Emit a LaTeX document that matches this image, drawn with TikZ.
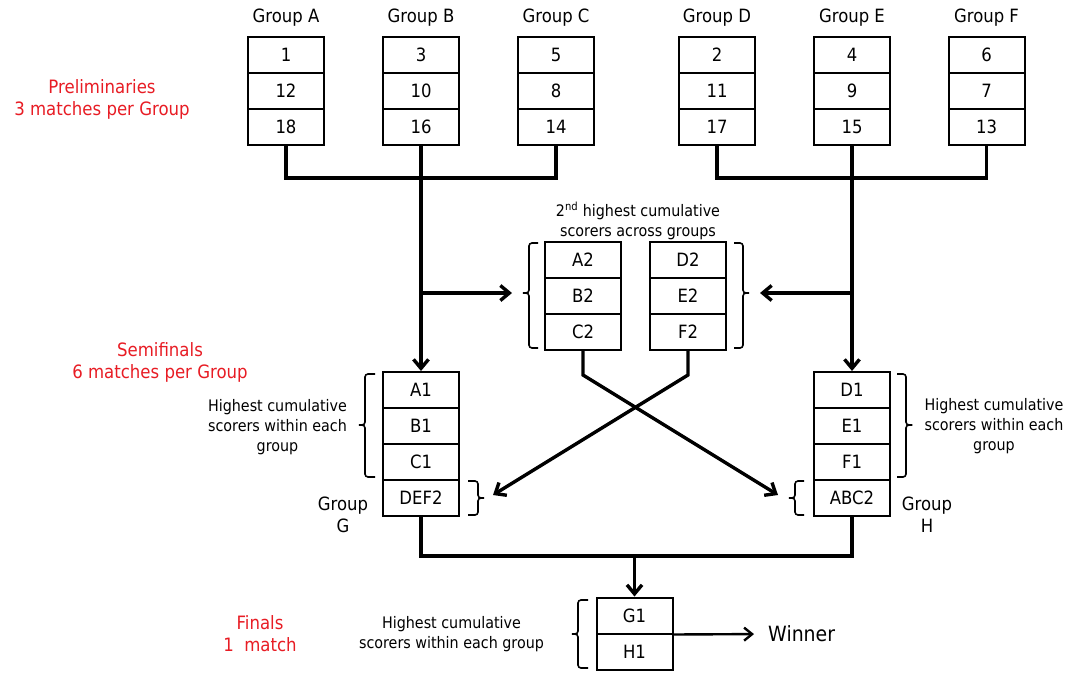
\documentclass[tikz,border=0pt]{standalone}
\usepackage{fontspec}
\setmainfont{DejaVu Sans}[FakeStretch=0.9]
\usetikzlibrary{arrows.meta}
\definecolor{lblred}{RGB}{232,28,36}
\begin{document}
\begin{tikzpicture}[x=1pt,y=-1pt,
  cell/.style={draw, line width=2pt, minimum width=76pt, minimum height=36pt, inner sep=0pt, font=\fontsize{18.3}{20}\selectfont},
  glabel/.style={inner sep=0pt, font=\fontsize{18.3}{20}\selectfont},
  note/.style={align=center, inner sep=0pt, font=\fontsize{15.9}{20}\selectfont},
  grp/.style={align=center, inner sep=0pt, font=\fontsize{18.3}{22}\selectfont},
  phase/.style={align=center, inner sep=0pt, text=lblred, font=\fontsize{18.4}{22}\selectfont},
  conn/.style={line width=3.4pt},
  arr/.style={conn, -{Straight Barb[length=9pt,width=15pt]}},
  thinarr/.style={line width=2.4pt, -{Straight Barb[length=8pt,width=13pt]}},
  brk/.style={line width=1.6pt, rounded corners=3pt}]
\useasboundingbox[fill=white] (0,0) rectangle (1085,675);

% ---- preliminary groups ----
\node[glabel] (la) at (286,18) {Group A};
\node[glabel] (lb) at (421,18) {Group B};
\node[glabel] (lc) at (556,18) {Group C};
\node[glabel] (ld) at (717,18) {Group D};
\node[glabel] (le) at (852,18) {Group E};
\node[glabel] (lf) at (986.5,18) {Group F};

\node[cell] (a1) at (286,55) {1};  \node[cell] (a2) at (286,91) {12}; \node[cell] (a3) at (286,127) {18};
\node[cell] (b1) at (421,55) {3};  \node[cell] (b2) at (421,91) {10}; \node[cell] (b3) at (421,127) {16};
\node[cell] (c1) at (556,55) {5};  \node[cell] (c2) at (556,91) {8};  \node[cell] (c3) at (556,127) {14};
\node[cell] (d1) at (717,55) {2};  \node[cell] (d2) at (717,91) {11}; \node[cell] (d3) at (717,127) {17};
\node[cell] (e1) at (852,55) {4};  \node[cell] (e2) at (852,91) {9};  \node[cell] (e3) at (852,127) {15};
\node[cell] (f1) at (986.5,55) {6};\node[cell] (f2) at (986.5,91) {7};\node[cell] (f3) at (986.5,127) {13};

% ---- second place boxes ----
\node[note] (sec) at (638,221) {2\textsuperscript{nd} highest cumulative\\scorers across groups};
\node[cell] (ma2) at (583,260) {A2}; \node[cell] (mb2) at (583,296) {B2}; \node[cell] (mc2) at (583,332) {C2};
\node[cell] (md2) at (688,260) {D2}; \node[cell] (me2) at (688,296) {E2}; \node[cell] (mf2) at (688,332) {F2};

% ---- semifinal groups ----
\node[cell] (g1) at (421,390) {A1}; \node[cell] (g2) at (421,426) {B1};
\node[cell] (g3) at (421,462) {C1}; \node[cell] (g4) at (421,498) {DEF2};
\node[cell] (h1) at (852,390) {D1}; \node[cell] (h2) at (852,426) {E1};
\node[cell] (h3) at (852,462) {F1}; \node[cell] (h4) at (852,498) {ABC2};

\node[note] (ng) at (277.5,427) {Highest cumulative\\scorers within each\\group};
\node[note] (nh) at (994,426) {Highest cumulative\\scorers within each\\group};
\node[grp] (gg) at (343,515) {Group\\G};
\node[grp] (gh) at (927,515) {Group\\H};

% ---- finals ----
\node[cell] (fg1) at (634.5,615.5) {G1};
\node[cell] (fh1) at (634.5,651.5) {H1};
\node[note] (nf) at (451.5,634.5) {Highest cumulative\\scorers within each group};
\node[anchor=west, inner sep=0pt, font=\fontsize{21}{24}\selectfont] (win) at (768,634) {Winner};

% ---- phase labels ----
\node[phase] (p1) at (102,99) {Preliminaries\\3 matches per Group};
\node[phase] (p2) at (160,362) {Semifinals\\6 matches per Group};
\node[phase] (p3) at (260,634) {Finals\\1~ match};

% ---- brackets ----
\draw[brk] (538,243) -- (529,243) -- (529,293) -- (521,293) -- (529,293) -- (529,348) -- (538,348);
\coordinate (tipL) at (512,293);
\draw[brk] (734,243) -- (743,243) -- (743,293) -- (751,293) -- (743,293) -- (743,348) -- (734,348);
\coordinate (tipR) at (760,293);

\draw[brk] (375,374) -- (365,374) -- (365,425) -- (357,425) -- (365,425) -- (365,477) -- (375,477);
\draw[brk] (897,374) -- (906,374) -- (906,425) -- (914,425) -- (906,425) -- (906,477) -- (897,477);

\draw[brk] (468,481) -- (478,481) -- (478,498) -- (486,498) -- (478,498) -- (478,515) -- (468,515);
\coordinate (tipDEF) at (493,495);
\draw[brk] (804,481) -- (795,481) -- (795,498) -- (787,498) -- (795,498) -- (795,515) -- (804,515);
\coordinate (tipABC) at (778,495);

\draw[brk] (588,600) -- (578,600) -- (578,634) -- (570,634) -- (578,634) -- (578,668) -- (588,668);

% ---- connectors ----
\coordinate (jl) at (421,178);
\coordinate (jr) at (852,178);
\draw[conn] (a3.south) -- (a3.south |- jl) -| (c3.south);
\draw[conn] (d3.south) -- (d3.south |- jr) -| (f3.south);
\draw[arr] (b3.south) -- (g1.north);
\draw[arr] (e3.south) -- (h1.north);
\coordinate (bl) at (421,293);
\coordinate (br) at (852,293);
\draw[arr] (bl) -- (tipL);
\draw[arr] (br) -- (tipR);
\draw[arr] (mc2.south) -- ++(0,24) -- (tipABC);
\draw[arr] (mf2.south) -- ++(0,24) -- (tipDEF);
\coordinate (jb) at (634.5,556);
\draw[conn] (g4.south) |- (jb) -| (h4.south);
\draw[arr] (jb) -- (fg1.north);
\draw[thinarr, shorten >=14pt] (fg1.south east) -- (win.west);
\end{tikzpicture}
\end{document}
